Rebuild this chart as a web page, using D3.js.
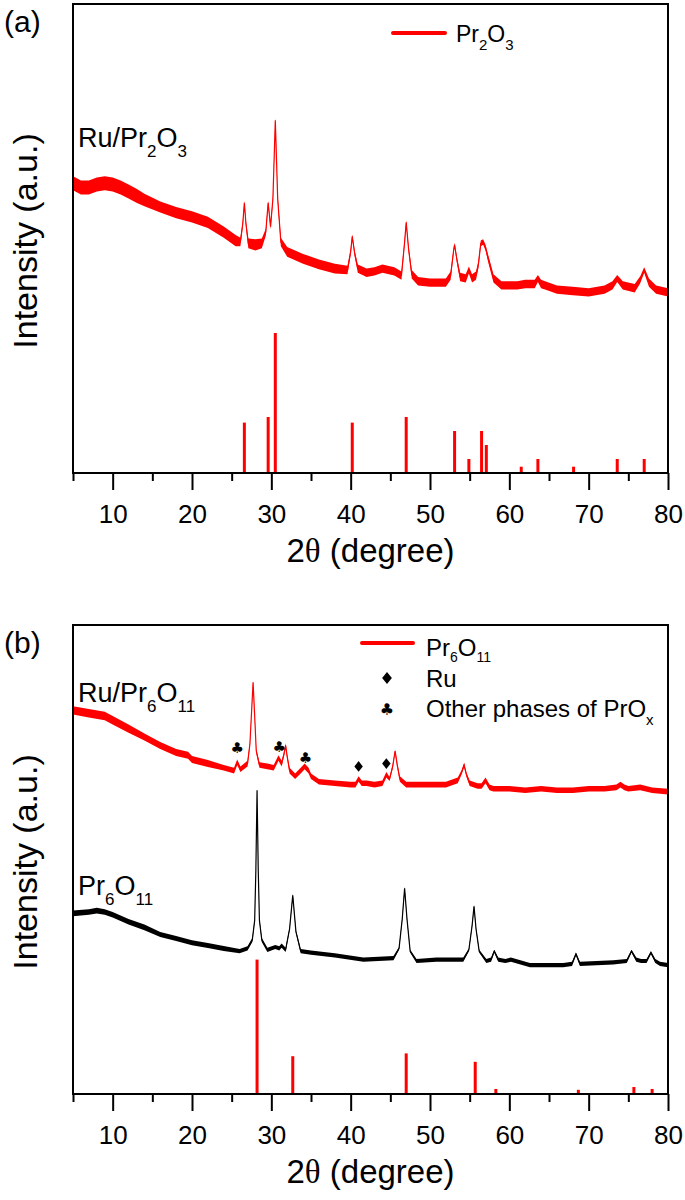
<!DOCTYPE html>
<html>
<head>
<meta charset="utf-8">
<script src="https://cdnjs.cloudflare.com/ajax/libs/d3/7.8.5/d3.min.js"></script>
<style>
    body { margin: 0; background: #fff; }
    svg text { font-family: "Liberation Sans", Arial, sans-serif; fill: #000; }
</style>
</head>
<body>
<div id="chart"></div>
<script>

// ---- data: [2theta, intensity (a.u.), noise half-band] ----

// (a) Ru/Pr2O3 pattern
var ruPr2O3 = [
    [5,207,5],[6,204,5],[7,204,5],[8,206,5],[9,207,5],[10,206,5],[11,204,5],[12,201,5],[13,198,5],
    [14,195,4.5],[16,190,4],[18,186,4],[20,183,4],[22,179,4],[24,172,4],[25.5,166,4],[26.1,165,3],
    [26.4,178,2],[26.6,193,1.5],[26.8,178,2],[27.1,164,3.5],[28,163,4],[28.8,164,3.5],[29.3,172,2.5],
    [29.6,193,1.5],[29.9,176,2],[30.2,196,2],[30.5,252,1.5],[30.8,196,2],[31.2,165,3],[32,158,3.5],
    [34,153,3.5],[36,149,3.5],[38,146,3.5],[39.6,145,3],[40.0,158,2],[40.2,169,1.5],[40.5,157,2],
    [40.9,146,3],[42,143,3],[43,144,3],[44,146,3],[45.5,144,3],[46.4,141,3],[46.8,165,2],[47.0,179,1.5],
    [47.3,160,2],[47.7,142,3],[48.5,137,3],[50,136,3],[52,136,3],[52.6,141,3],[53.0,160,1.5],
    [53.1,163,1.5],[53.4,152,2],[53.8,140,3],[54.5,139,3],[54.9,145,2.5],[55.3,139,3],[55.8,141,3],
    [56.1,149,2.5],[56.4,164,2],[56.7,165,2],[57.0,161,2],[57.3,154,2.5],[58,139,3],[59,134,3],
    [61,134,3],[62,135,3],[63.2,135,3],[63.6,139,2.5],[64.0,135,3],[64.5,134,3],[66,131,3],[68,130,3],
    [70,129,3],[72,131,3],[73.0,134,3],[73.6,139,2.5],[74.3,134,3],[75.8,132,3],[76.5,138,2.5],
    [77.0,145,2],[77.6,136,3],[78.5,131,3],[80,129,3]
];

// (a) Pr2O3 reference lines
var pr2O3Pos = [26.6, 29.6, 30.5, 40.2, 47.0, 53.1, 54.9, 56.5, 57.1, 61.5, 63.6, 68.1, 73.6, 77.0];
var pr2O3Int = [36, 40, 100, 36, 40, 30, 10, 30, 20, 4.5, 10, 4.5, 10, 10];

// (b) Ru/Pr6O11 pattern
var ruPr6O11 = [
    [5,274,3],[7,272,3],[9,270,3],[10,267,3],[12,261,3],[14,255,2.5],[16,249,2.5],[18,244,2.5],
    [19.5,242,2.5],[20,239,2.5],[22,236,2.5],[24,233,2],[25.3,231,2],[25.7,237,2],[26.1,232,2],
    [27.0,236,2],[27.3,250,1.5],[27.5,272,1],[27.7,294,1],[27.9,270,1],[28.1,245,1.5],[28.5,235,2],
    [29.5,234,2],[30.3,233,2],[30.9,240,2],[31.3,236,2],[31.6,243,1.5],[31.8,249,1.5],[32.0,241,1.5],
    [32.3,231,2],[33,227,2],[33.7,231,2],[34.2,234,2],[34.7,231,2],[35,227,2],[36,223,2],[38,222,2],
    [40,221,2],[40.6,221,2],[41,225,2],[41.4,222,2],[42,222,2],[43,221,2],[44,222,2],[44.5,228,2],
    [44.9,225,1.5],[45.3,234,1.5],[45.6,245,1],[45.9,234,1.5],[46.2,225,2],[47,221,2],[50,221,2],
    [52,221,2],[53.5,224,2],[54.0,230,1.5],[54.3,235,1.5],[54.6,228,1.5],[55,222,2],[56,220,2],
    [56.5,220,2],[57,224,2],[57.5,219,2],[58,218,2],[60,218,2],[62,217,2],[64,218,2],[66,217,2],
    [68,217,2],[70,218,2],[72,218,2],[73.5,219,2],[74,221,2],[74.5,219,2],[75,218,2],[76.5,219,2],
    [78,217,2],[80,216,2]
];

// (b) Pr6O11 pattern
var pr6O11 = [
    [5,129,2],[7,130,2],[8,131,2],[9,130,2],[10,128,2],[12,123,2],[14,119,2],[16,114,1.8],
    [18,111,1.8],[20,108,1.8],[22,106,1.8],[24,104,1.8],[26,102,1.5],[27,104,1.5],[27.6,110,1.5],[27.9,124,1],
    [28.05,160,1],[28.2,217,1],[28.35,160,1],[28.5,124,1],[28.8,110,1.5],[29.5,103,1.5],[30.5,105,1.5],
    [31.0,104,1.5],[31.3,106,1.5],[31.8,103,1.5],[32.3,118,1],[32.7,142,1],[33.1,116,1],[33.7,102,1.5],
    [35,101,1.5],[38,99,1.5],[41.6,96,1.5],[45.4,97,1.5],[46.1,104,1],[46.5,125,1],[46.8,147,1],
    [47.1,125,1],[47.5,102,1],[48.3,95,1.5],[50.8,96,1.5],[54.2,96,1.5],[54.9,103,1],[55.3,120,1],
    [55.55,134,1],[55.8,118,1],[56.2,102,1],[57.1,95,1.5],[57.7,96,1.5],[58.1,102,1],[58.6,96,1.5],
    [59.5,95,1.5],[60.2,96,1.5],[62.6,92,1.5],[66.8,92,1.5],[67.9,93,1.5],[68.4,100,1],[68.9,93,1.5],
    [73.1,94,1.5],[74.8,95,1.5],[75.4,102,1],[76.0,96,1.5],[76.6,95,1.5],[77.3,95,1.5],[77.85,101,1],
    [78.4,95,1.5],[79,93,1.5],[80,92,1.5]
];

// (b) Pr6O11 reference lines
var pr6O11Pos = [28.2, 32.7, 47.0, 55.7, 58.3, 68.7, 75.7, 78.0];
var pr6O11Int = [96, 27, 29, 23, 3.6, 3, 5, 3.6];

// (b) phase markers on the Ru/Pr6O11 trace
var otherPhaseMarks = [[25.7, 247], [31.0, 248], [34.3, 240]];
var ruMarks = [[41.0, 234], [44.5, 236]];

// axis
var xDomain = [5, 80];
var yDomain = [0, 335];
var xMajorTicks = [10, 20, 30, 40, 50, 60, 70, 80];
var xMinorTicks = [5, 15, 25, 35, 45, 55, 65, 75];


var RED = "#ff0000";

var svg = d3.select("#chart").append("svg")
    .attr("width", 685)
    .attr("height", 1200);

// text with subscripts: parts alternate normal / subscript
function chemText(parent, x, y, parts, size, subSize, shift) {
    var t = parent.append("text")
        .attr("x", x).attr("y", y)
        .style("font-size", size + "px");
    var down = false;
    parts.forEach(function(p, i) {
        var isSub = (i % 2 == 1);
        if (p === "") return;
        var ts = t.append("tspan").text(p);
        if (isSub) {
            ts.attr("dy", down ? 0 : shift).style("font-size", subSize + "px");
            down = true;
        } else {
            ts.attr("dy", down ? -shift : 0);
            down = false;
        }
    });
    return t;
}

// diamond slightly narrower than tall, like the figure
var tallDiamond = {
    draw: function(ctx, size) {
        var h = Math.sqrt(size / 1.6), w = h * 0.8;
        ctx.moveTo(0, -h);
        ctx.lineTo(w, 0);
        ctx.lineTo(0, h);
        ctx.lineTo(-w, 0);
        ctx.closePath();
    }
};

/*
 * XRDPanel - one framed panel with a shared 2theta axis
 */
XRDPanel = function(_top, _letter) {
    this.top = _top;
    this.letter = _letter;
    this.initVis();
};

XRDPanel.prototype.initVis = function() {
    var vis = this;

    vis.margin = {left: 73};
    vis.width = 595;
    vis.height = 469;

    vis.g = svg.append("g")
        .attr("transform", "translate(" + vis.margin.left + "," + vis.top + ")");

    vis.x = d3.scaleLinear().domain(xDomain).range([0, vis.width]);
    vis.y = d3.scaleLinear().domain(yDomain).range([vis.height, 0]);

    vis.area = d3.area()
        .x(function(d) { return vis.x(d[0]); })
        .y0(function(d) { return vis.y(d[1] - d[2]); })
        .y1(function(d) { return vis.y(d[1] + d[2]); });

    vis.line = d3.line()
        .x(function(d) { return vis.x(d[0]); })
        .y(function(d) { return vis.y(d[1]); });

    vis.plot = vis.g.append("g");

    // panel letter
    svg.append("text")
        .attr("x", 4).attr("y", vis.top + 28)
        .style("font-size", "30px")
        .text("(" + vis.letter + ")");

    // y title
    svg.append("text")
        .attr("transform", "translate(37," + (vis.top + 237) + ") rotate(-90)")
        .attr("text-anchor", "middle")
        .style("font-size", "34px")
        .text("Intensity (a.u.)");
};

XRDPanel.prototype.drawTrace = function(data, color) {
    var vis = this;
    vis.plot.append("path")
        .datum(data)
        .attr("d", vis.area)
        .attr("fill", color)
        .attr("stroke", "none");
    vis.plot.append("path")
        .datum(data)
        .attr("d", vis.line)
        .attr("fill", "none")
        .attr("stroke", color)
        .attr("stroke-width", 1.2);
};

XRDPanel.prototype.drawSticks = function(pos, inten) {
    var vis = this;
    vis.plot.selectAll(null)
        .data(pos.map(function(p, i) { return [p, inten[i]]; }))
        .enter().append("line")
        .attr("x1", function(d) { return vis.x(d[0]); })
        .attr("x2", function(d) { return vis.x(d[0]); })
        .attr("y1", vis.y(0))
        .attr("y2", function(d) { return vis.y(d[1]); })
        .attr("stroke", RED)
        .attr("stroke-width", 3);
};

XRDPanel.prototype.drawAxes = function() {
    var vis = this;

    var major = d3.axisBottom(vis.x)
        .tickValues(xMajorTicks)
        .tickSize(17)
        .tickPadding(15)
        .tickFormat(d3.format("d"));

    var minor = d3.axisBottom(vis.x)
        .tickValues(xMinorTicks)
        .tickSize(8)
        .tickFormat("");

    [major, minor].forEach(function(ax) {
        var a = vis.g.append("g")
            .attr("transform", "translate(0," + vis.height + ")")
            .call(ax);
        a.select(".domain").remove();
        a.selectAll(".tick line").attr("stroke", "#000").attr("stroke-width", 2);
        a.selectAll(".tick text")
            .attr("fill", "#000")
            .style("font-size", "26px")
            .style("font-family", "'Liberation Sans', Arial, sans-serif");
    });

    // frame
    vis.g.append("rect")
        .attr("x", 0).attr("y", 0)
        .attr("width", vis.width).attr("height", vis.height)
        .attr("fill", "none")
        .attr("stroke", "#000")
        .attr("stroke-width", 2);

    // x title
    var t = vis.g.append("text")
        .attr("x", vis.width / 2)
        .attr("y", vis.height + 89)
        .attr("text-anchor", "middle")
        .style("font-size", "33px");
    t.append("tspan").text("2");
    t.append("tspan").style("font-family", "'Liberation Serif', 'Times New Roman', serif").text("\u03b8");
    t.append("tspan").text(" (degree)");
};

// ---- panel (a) ----
var panelA = new XRDPanel(4, "a");
panelA.drawTrace(ruPr2O3, RED);
panelA.drawSticks(pr2O3Pos, pr2O3Int);
panelA.drawAxes();

chemText(svg, 78, 147, ["Ru/Pr", "2", "O", "3"], 27, 17, 10);

svg.append("line")
    .attr("x1", 393).attr("x2", 445).attr("y1", 33).attr("y2", 33)
    .attr("stroke", RED).attr("stroke-width", 4).attr("stroke-linecap", "round");
chemText(svg, 456, 42, ["Pr", "2", "O", "3"], 23, 15, 8);

// ---- panel (b) ----
var panelB = new XRDPanel(625, "b");
panelB.drawTrace(ruPr6O11, RED);
panelB.drawTrace(pr6O11, "#000");
panelB.drawSticks(pr6O11Pos, pr6O11Int);
panelB.drawAxes();

chemText(svg, 78, 702, ["Ru/Pr", "6", "O", "11"], 27, 17, 10);
chemText(svg, 78, 895, ["Pr", "6", "O", "11"], 27, 17, 10);

// markers on the Ru/Pr6O11 trace
panelB.plot.selectAll(null)
    .data(otherPhaseMarks)
    .enter().append("text")
    .attr("x", function(d) { return panelB.x(d[0]); })
    .attr("y", function(d) { return panelB.y(d[1]); })
    .attr("text-anchor", "middle")
    .attr("dominant-baseline", "central")
    .style("font-family", "'DejaVu Sans', sans-serif")
    .style("font-size", "15px")
    .text("\u2663");

panelB.plot.selectAll(null)
    .data(ruMarks)
    .enter().append("path")
    .attr("transform", function(d) { return "translate(" + panelB.x(d[0]) + "," + panelB.y(d[1]) + ")"; })
    .attr("d", d3.symbol().type(tallDiamond).size(45))
    .attr("fill", "#000");

// legend (b)
svg.append("line")
    .attr("x1", 362).attr("x2", 413).attr("y1", 643).attr("y2", 643)
    .attr("stroke", RED).attr("stroke-width", 4).attr("stroke-linecap", "round");
chemText(svg, 426, 656, ["Pr", "6", "O", "11"], 24, 14, 6);

svg.append("path")
    .attr("transform", "translate(387,678)")
    .attr("d", d3.symbol().type(tallDiamond).size(60))
    .attr("fill", "#000");
svg.append("text")
    .attr("x", 426).attr("y", 687)
    .style("font-size", "24px")
    .text("Ru");

svg.append("text")
    .attr("x", 387).attr("y", 709)
    .attr("text-anchor", "middle")
    .attr("dominant-baseline", "central")
    .style("font-family", "'DejaVu Sans', sans-serif")
    .style("font-size", "16px")
    .text("\u2663");
chemText(svg, 426, 717, ["Other phases of PrO", "x"], 24, 15, 8);

</script>
</body>
</html>
